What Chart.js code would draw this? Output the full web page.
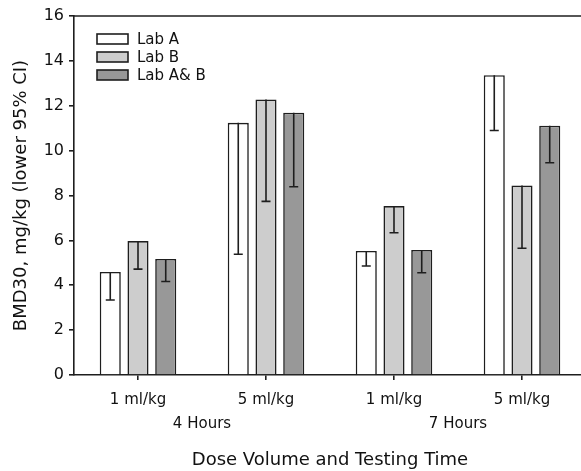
<!DOCTYPE html>
<html>
<head>
<meta charset="utf-8">
<script src="https://cdn.jsdelivr.net/npm/chart.js@4/dist/chart.umd.min.js"></script>
<style>
  html, body { margin: 0; padding: 0; background: #fff; overflow: hidden; }
  #wrap { width: 586px; height: 471px; position: relative; }
</style>
</head>
<body>
<div id="wrap"><canvas id="c" width="586" height="471"></canvas></div>
<script>
const categories = ['1 ml/kg', '5 ml/kg', '1 ml/kg', '5 ml/kg'];
const groupLabels = ['4 Hours', '7 Hours'];
const seriesNames = ['Lab A', 'Lab B', 'Lab A& B'];
const labA = [4.59, 11.24, 5.53, 13.36];
const labALower = [3.34, 5.38, 4.86, 10.90];
const labB = [5.97, 12.28, 7.53, 8.45];
const labBLower = [4.72, 7.74, 6.34, 5.65];
const labAB = [5.17, 11.69, 5.57, 11.11];
const labABLower = [4.17, 8.39, 4.56, 9.46];
const yMin = 0, yMax = 16, yStep = 2;
const yTitle = 'BMD30, mg/kg (lower 95% CI)';
const xTitle = 'Dose Volume and Testing Time';

const FONT = 'DejaVu Sans';
const INK = '#1e1e1e';
const lowers = [labALower, labBLower, labABLower];
const fills = ['#ffffff', '#cdcdcd', '#989898'];

const errorBars = {
  id: 'errorBars',
  afterDatasetsDraw(chart) {
    const ctx = chart.ctx;
    const ys = chart.scales.y;
    ctx.save();
    ctx.strokeStyle = INK;
    ctx.lineWidth = 1.6;
    chart.data.datasets.forEach((ds, di) => {
      const meta = chart.getDatasetMeta(di);
      meta.data.forEach((el, i) => {
        const lo = ys.getPixelForValue(lowers[di][i]);
        const x = el.x;
        ctx.beginPath();
        ctx.moveTo(x, el.y);
        ctx.lineTo(x, lo);
        ctx.moveTo(x - 4.5, lo);
        ctx.lineTo(x + 4.5, lo);
        ctx.stroke();
      });
    });
    ctx.restore();
  }
};

const frameAndLegend = {
  id: 'frameAndLegend',
  afterDraw(chart) {
    const ctx = chart.ctx;
    const a = chart.chartArea;
    ctx.save();
    ctx.strokeStyle = INK;
    ctx.lineWidth = 1.6;
    ctx.beginPath();
    ctx.moveTo(a.left, a.top);
    ctx.lineTo(chart.width, a.top);
    ctx.stroke();
    // legend
    const bx = a.left + 23, bw = 31, bh = 10;
    ctx.font = '15px "' + FONT + '"';
    ctx.textBaseline = 'middle';
    ctx.textAlign = 'left';
    chart.data.datasets.forEach((ds, i) => {
      const cy = a.top + 23 + i * 18;
      ctx.fillStyle = ds.backgroundColor;
      ctx.fillRect(bx, cy - bh / 2, bw, bh);
      ctx.lineWidth = 1.6;
      ctx.strokeStyle = INK;
      ctx.strokeRect(bx, cy - bh / 2, bw, bh);
      ctx.fillStyle = '#111';
      ctx.fillText(ds.label, bx + 40, cy + 1);
    });
    ctx.restore();
  }
};

const mk = (label, data, i) => ({
  label, data,
  backgroundColor: fills[i],
  borderColor: INK,
  borderWidth: 1.6,
  categoryPercentage: 0.65,
  barPercentage: 0.76,
  xAxisID: 'x', yAxisID: 'y'
});

new Chart(document.getElementById('c'), {
  type: 'bar',
  data: {
    labels: categories,
    datasets: [mk(seriesNames[0], labA, 0), mk(seriesNames[1], labB, 1), mk(seriesNames[2], labAB, 2)]
  },
  options: {
    responsive: false,
    animation: false,
    devicePixelRatio: 1,
    layout: { padding: { top: 16, left: 0, right: 0, bottom: 0 } },
    plugins: { legend: { display: false }, tooltip: { enabled: false } },
    scales: {
      y: {
        min: yMin, max: yMax,
        afterFit(s) { s.width = 74; },
        ticks: { stepSize: yStep, color: '#111', font: { family: FONT, size: 16 }, padding: 5 },
        grid: { drawOnChartArea: false, drawTicks: true, tickLength: 5, color: INK, lineWidth: 1.6 },
        border: { display: true, color: INK, width: 1.6 },
        title: { display: true, text: yTitle, color: '#111', font: { family: FONT, size: 18 }, padding: { top: 11, bottom: 0 } }
      },
      x: {
        type: 'category',
        position: 'bottom',
        weight: 0,
        offset: true,
        afterFit(s) { s.height = 32; },
        ticks: { color: '#111', font: { family: FONT, size: 15 }, padding: 11, maxRotation: 0, autoSkip: false },
        grid: { offset: false, drawOnChartArea: false, drawTicks: true, tickLength: 5, color: INK, lineWidth: 1.6 },
        border: { display: true, color: INK, width: 1.6 }
      },
      x2: {
        type: 'category',
        position: 'bottom',
        weight: 1,
        offset: true,
        labels: groupLabels,
        afterFit(s) { s.height = 64; },
        ticks: { color: '#111', font: { family: FONT, size: 15 }, padding: 8, maxRotation: 0, autoSkip: false },
        grid: { display: false, drawTicks: false },
        border: { display: false },
        title: { display: true, text: xTitle, color: '#111', font: { family: FONT, size: 18 }, padding: { top: 0, bottom: 0 } }
      }
    }
  },
  plugins: [errorBars, frameAndLegend]
});
</script>
</body>
</html>
